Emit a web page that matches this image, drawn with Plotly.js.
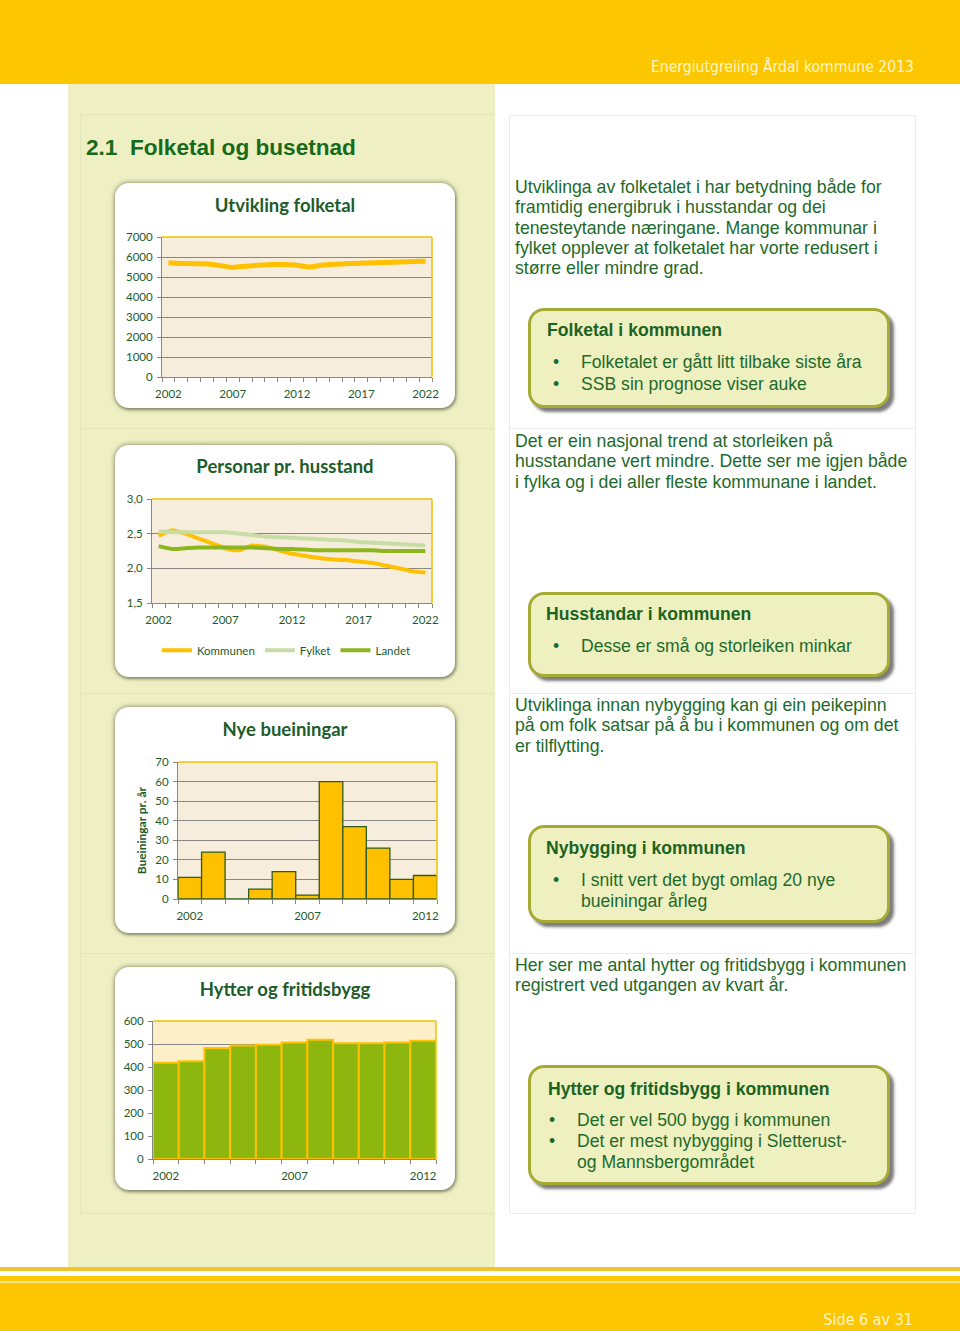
<!DOCTYPE html>
<html><head><meta charset="utf-8">
<script src="https://cdn.plot.ly/plotly-3.0.1.min.js"></script>
<style>
html,body{margin:0;padding:0}
body{width:960px;height:1331px;position:relative;background:#fff;overflow:hidden;font-family:"Liberation Sans",Arial,sans-serif;color:#1e6a2a}
.abs{position:absolute}
.band{position:absolute;left:0;width:960px;background:#fcc700}
.hdr{position:absolute;right:46px;white-space:nowrap;font-family:"Liberation Sans Narrow","DejaVu Sans Condensed",sans-serif;color:#fff6c8}
.leftcol{position:absolute;left:68px;top:84px;width:427px;height:1183px;background:#eef0c3}
.hl{position:absolute;height:1px}
.vl{position:absolute;width:1px}
.cbox{position:absolute;background:#fff;border-radius:14px;box-shadow:0 0 4px 1px rgba(90,90,60,0.55),1px 2px 3px rgba(60,60,40,0.4)}
.chart{position:absolute}
.para{position:absolute;left:515px;font-size:17.7px;line-height:20.3px;white-space:nowrap;color:#1e6a2a}
.tbox{position:absolute;left:528px;width:356px;background:#eef0c0;border:3px solid #a4aa34;border-radius:16px;box-shadow:4px 4px 3px rgba(80,80,80,0.75)}
.tt{position:absolute;font-weight:bold;font-size:17.6px;white-space:nowrap;color:#1b6322;line-height:20px}
.bl{position:absolute;font-size:17.6px;white-space:nowrap;color:#1e6a2a;line-height:20px}
</style></head>
<body>
<div class="band" style="top:0;height:84px"></div>
<div class="hdr" style="top:57px;font-size:15.6px;line-height:20px">Energiutgreiing Årdal kommune 2013</div>

<div class="leftcol"></div>
<!-- faint table lines -->
<div class="hl" style="left:80px;top:114px;width:415px;background:#e3e6bd"></div>
<div class="vl" style="left:80px;top:114px;height:1100px;background:#e3e6bd"></div>
<div class="hl" style="left:509px;top:115px;width:407px;background:#ececec"></div>
<div class="hl" style="left:509px;top:428px;width:407px;background:#ececec"></div>
<div class="hl" style="left:509px;top:693px;width:407px;background:#ececec"></div>
<div class="hl" style="left:509px;top:953px;width:407px;background:#ececec"></div>
<div class="hl" style="left:509px;top:1213px;width:407px;background:#ececec"></div>
<div class="vl" style="left:509px;top:115px;height:1098px;background:#ececec"></div>
<div class="vl" style="left:915px;top:115px;height:1098px;background:#ececec"></div>
<div class="hl" style="left:80px;top:428px;width:415px;background:#e3e6bd"></div>
<div class="hl" style="left:80px;top:693px;width:415px;background:#e3e6bd"></div>
<div class="hl" style="left:80px;top:953px;width:415px;background:#e3e6bd"></div>
<div class="hl" style="left:80px;top:1213px;width:415px;background:#e3e6bd"></div>

<div class="abs" style="left:86px;top:135px;font-size:22.6px;font-weight:bold;color:#176a1a;white-space:nowrap;line-height:26px">2.1&nbsp;&nbsp;Folketal og busetnad</div>

<div class="cbox" style="left:115px;top:183px;width:340px;height:225px"></div>
<div class="cbox" style="left:115px;top:445px;width:340px;height:232px"></div>
<div class="cbox" style="left:115px;top:707px;width:340px;height:226px"></div>
<div class="cbox" style="left:115px;top:967px;width:340px;height:223px"></div>
<div id="c1" class="chart" style="left:115px;top:183px;width:340px;height:225px"></div>
<div id="c2" class="chart" style="left:115px;top:445px;width:340px;height:232px"></div>
<div id="c3" class="chart" style="left:115px;top:707px;width:340px;height:226px"></div>
<div id="c4" class="chart" style="left:115px;top:967px;width:340px;height:223px"></div>

<div class="para" style="top:177px">Utviklinga av folketalet i har betydning både for<br>framtidig energibruk i husstandar og dei<br>tenesteytande næringane. Mange kommunar i<br>fylket opplever at folketalet har vorte redusert i<br>større eller mindre grad.</div>

<div class="tbox" style="top:308px;height:94px"></div>
<div class="tt" style="left:547px;top:320px">Folketal i kommunen</div>
<div class="bl" style="left:553px;top:352px">•</div><div class="bl" style="left:581px;top:352px">Folketalet er gått litt tilbake siste åra</div>
<div class="bl" style="left:553px;top:374px">•</div><div class="bl" style="left:581px;top:374px">SSB sin prognose viser auke</div>

<div class="para" style="top:431px">Det er ein nasjonal trend at storleiken på<br>husstandane vert mindre. Dette ser me igjen både<br>i fylka og i dei aller fleste kommunane i landet.</div>

<div class="tbox" style="top:592px;height:79px"></div>
<div class="tt" style="left:546px;top:604px">Husstandar i kommunen</div>
<div class="bl" style="left:553px;top:636px">•</div><div class="bl" style="left:581px;top:636px">Desse er små og storleiken minkar</div>

<div class="para" style="top:695px">Utviklinga innan nybygging kan gi ein peikepinn<br>på om folk satsar på å bu i kommunen og om det<br>er tilflytting.</div>

<div class="tbox" style="top:825px;height:92px"></div>
<div class="tt" style="left:546px;top:838px">Nybygging i kommunen</div>
<div class="bl" style="left:553px;top:870px">•</div><div class="bl" style="left:581px;top:870px">I snitt vert det bygt omlag 20 nye</div>
<div class="bl" style="left:581px;top:891px">bueiningar årleg</div>

<div class="para" style="top:955px">Her ser me antal hytter og fritidsbygg i kommunen<br>registrert ved utgangen av kvart år.</div>

<div class="tbox" style="top:1065px;height:114px"></div>
<div class="tt" style="left:548px;top:1079px">Hytter og fritidsbygg i kommunen</div>
<div class="bl" style="left:549px;top:1110px">•</div><div class="bl" style="left:577px;top:1110px">Det er vel 500 bygg i kommunen</div>
<div class="bl" style="left:549px;top:1131px">•</div><div class="bl" style="left:577px;top:1131px">Det er mest nybygging i Sletterust-</div>
<div class="bl" style="left:577px;top:1152px">og Mannsbergområdet</div>

<!-- footer -->
<div class="band" style="top:1267px;height:4px;background:#f3c22c"></div>
<div class="band" style="top:1276px;height:5px"></div>
<div class="band" style="top:1281px;height:2px;background:#fde58a"></div>
<div class="band" style="top:1283px;height:48px"></div>
<div class="hdr" style="top:1311px;right:47px;font-size:16px;line-height:18px;color:#fff3c4">Side 6 av 31</div>

<script>
// ---------- data ----------
const years = [2002,2003,2004,2005,2006,2007,2008,2009,2010,2011,2012,2013,2014,2015,2016,2017,2018,2019,2020,2021,2022];
const folketal = [5710,5680,5660,5650,5580,5480,5540,5590,5630,5620,5590,5500,5600,5640,5670,5690,5710,5730,5750,5770,5790];
const husstandKommunen = [2.47,2.55,2.50,2.43,2.36,2.29,2.26,2.33,2.31,2.26,2.21,2.18,2.15,2.13,2.12,2.10,2.08,2.04,2.00,1.96,1.94];
const husstandFylket = [2.53,2.52,2.52,2.52,2.52,2.52,2.50,2.48,2.46,2.45,2.44,2.43,2.42,2.41,2.40,2.38,2.37,2.36,2.35,2.34,2.33];
const husstandLandet = [2.32,2.28,2.29,2.30,2.30,2.30,2.30,2.30,2.29,2.28,2.28,2.27,2.26,2.26,2.26,2.26,2.26,2.25,2.25,2.25,2.25];
const seriesNames = ["Kommunen","Fylket","Landet"];
const longTicks = [2002,2007,2012,2017,2022];
const byggYears = [2002,2003,2004,2005,2006,2007,2008,2009,2010,2011,2012];
const nyeBueiningar = [11,24,0,5,14,2,60,37,26,10,12];
const hytter = [418,425,483,493,497,507,519,503,503,507,514];
const shortTicks = [2002,2007,2012];
const titles = ["Utvikling folketal","Personar pr. husstand","Nye bueiningar","Hytter og fritidsbygg"];
const yTitle3 = "Bueiningar pr. år";

// ---------- style ----------
const FONT = "Lato, 'Open Sans', sans-serif";
const DG = "#1d5c2a";
const GREY = "#878787";
const YEL = "#ffc000";

function xAxis(first, last, ticks){
  return {type:'linear', range:[first-0.5, last+0.5], tickmode:'array', tickvals:ticks, ticktext:ticks.map(String),
    ticks:'', showline:true, linecolor:GREY, linewidth:1, showgrid:false, zeroline:false, fixedrange:true,
    tickfont:{family:FONT,size:11.5,color:DG}, ticklabelstandoff:6,
    minor:{ticks:'outside', ticklen:4, tickcolor:GREY, tickwidth:1, tick0:first-0.5, dtick:1, showgrid:false}};
}
function yAxis(range, dtick, fmt){
  return {range:range, dtick:dtick, tick0:0, ticks:'outside', ticklen:4, tickcolor:GREY, showline:true, linecolor:GREY,
    linewidth:1, showgrid:true, gridcolor:GREY, gridwidth:1, zeroline:false, fixedrange:true,
    tickfont:{family:FONT,size:11.5,color:DG}, tickformat:fmt||'', ticklabelstandoff:2};
}
function frame(){
  return [
    {type:'line', xref:'paper', yref:'paper', x0:0, x1:1, y0:1, y1:1, line:{color:'#f2c200', width:1.5}, layer:'above'},
    {type:'line', xref:'paper', yref:'paper', x0:1, x1:1, y0:0, y1:1, line:{color:'#f2c200', width:1.5}, layer:'above'}
  ];
}
function baseLayout(title, w, h, m, titleY, bg){
  return {width:w, height:h, margin:m, paper_bgcolor:'rgba(0,0,0,0)', plot_bgcolor:bg||'#f6eddc',
    title:{text:'<b>'+title+'</b>', font:{family:FONT, size:18.5, color:DG}, x:0.5, xref:'container', xanchor:'center',
      y:1-titleY/h, yref:'container', yanchor:'middle'},
    showlegend:false, shapes:frame(), font:{family:FONT}, separators:', '};
}
const cfg = {staticPlot:true, displayModeBar:false};

// Chart 1
(function(){
  const L = baseLayout(titles[0], 340, 225, {l:47, r:23, t:54, b:31}, 23);
  L.separators = '.,';
  L.xaxis = xAxis(2002, 2022, longTicks);
  L.yaxis = yAxis([0,7000], 1000);
  Plotly.newPlot('c1', [{x:years, y:folketal, type:'scatter', mode:'lines', line:{color:YEL, width:5, shape:'spline', smoothing:0.6}}], L, cfg);
})();

// Chart 2
(function(){
  const L = baseLayout(titles[1], 340, 232, {l:37, r:23, t:54, b:74}, 22);
  L.xaxis = xAxis(2002, 2022, longTicks);
  L.yaxis = yAxis([1.5,3.0], 0.5, '.1f');
  L.showlegend = true;
  L.legend = {orientation:'h', x:0.48, xanchor:'center', y:-0.455, yanchor:'middle', font:{family:FONT,size:11.5,color:DG},
    bgcolor:'rgba(0,0,0,0)', itemwidth:30, tracegroupgap:0};
  const cols = [YEL, '#c8dca5', '#8db51e'];
  const vals = [husstandKommunen, husstandFylket, husstandLandet];
  const tr = vals.map((v,i)=>({x:years, y:v, name:seriesNames[i], type:'scatter', mode:'lines', line:{color:cols[i], width:4, shape:'spline', smoothing:0.5}}));
  Plotly.newPlot('c2', tr, L, cfg);
})();

// Chart 3
(function(){
  const L = baseLayout(titles[2], 340, 226, {l:63, r:18, t:55, b:34}, 23);
  L.separators = '.,';
  L.xaxis = xAxis(2002, 2012, shortTicks);
  L.yaxis = yAxis([0,70], 10);
  L.bargap = 0;
  L.annotations = [{text:'<b>'+yTitle3+'</b>', xref:'paper', yref:'paper', x:-36/258, y:0.5, xanchor:'center', yanchor:'middle',
    textangle:-90, showarrow:false, font:{family:FONT, size:12, color:DG}}];
  Plotly.newPlot('c3', [{x:byggYears, y:nyeBueiningar, type:'bar', width:1, marker:{color:YEL, line:{color:'#2f5b1c', width:1.3}}}], L, cfg);
})();

// Chart 4
(function(){
  const L = baseLayout(titles[3], 340, 223, {l:38, r:19, t:54, b:31}, 23, '#fdf0c8');
  L.separators = '.,';
  L.xaxis = xAxis(2002, 2012, shortTicks);
  L.yaxis = yAxis([0,600], 100);
  L.bargap = 0;
  Plotly.newPlot('c4', [{x:byggYears, y:hytter, type:'bar', width:1, marker:{color:'#8db70f', line:{color:YEL, width:2}}}], L, cfg);
})();
</script>
</body></html>
